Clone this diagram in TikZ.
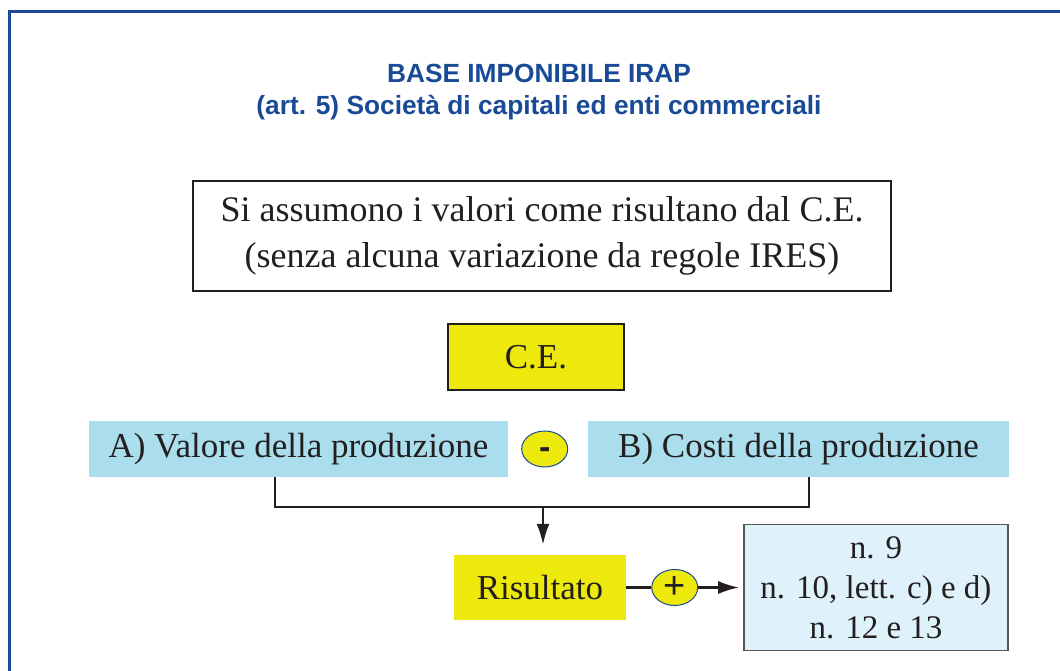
\documentclass[tikz,border=0pt]{standalone}
\usepackage{fontspec}
\setmainfont{Liberation Serif}
\setsansfont{Liberation Sans}
\usepackage{tikz}
\usetikzlibrary{shapes.geometric, calc, arrows.meta, positioning}

\definecolor{irapblue}{RGB}{24,74,150}
\definecolor{ceyellow}{RGB}{237,233,12}
\definecolor{prodblue}{RGB}{170,222,236}
\definecolor{vocifill}{RGB}{223,242,252}
\definecolor{inkgray}{RGB}{35,31,32}
\definecolor{edgegray}{RGB}{85,85,85}

\begin{document}
\begin{tikzpicture}[x=1pt, y=1pt, >={Latex[length=21pt, width=13pt]},
  box/.style={inner sep=0pt, text=inkgray, align=center, font=\fontsize{35}{46}\selectfont},
  sign/.style={ellipse, draw=irapblue, line width=1pt, fill=ceyellow, inner sep=0pt,
    minimum width=46pt, minimum height=36pt, text=inkgray},
  link/.style={draw=inkgray, line width=2.5pt}]

\useasboundingbox (0,0) rectangle (1060,670);
\draw[irapblue, line width=3pt] (9,-20) -- (9,658) -- (1080,658);

\node[text=irapblue, align=center, inner sep=0pt,
  font=\sffamily\bfseries\fontsize{26.3}{32}\selectfont] (title) at (539,578)
  {BASE IMPONIBILE IRAP\\(art. 5) Società di capitali ed enti commerciali};

\begin{scope}[node distance = 13pt]
\node[box, draw=inkgray, line width=1.5pt, minimum width=698pt, minimum height=110pt,
  font=\fontsize{36}{46}\selectfont] (assumono) at (542,434)
  {Si assumono i valori come risultano dal C.E.\\(senza alcuna variazione da regole IRES)};
\node[box, draw=inkgray, line width=1.5pt, fill=ceyellow, minimum width=176pt,
  minimum height=66pt] (ce) at (536,313) {C.E.};

\node[box, fill=prodblue, minimum width=419pt, minimum height=56pt] (valore) at (298.5,221)
  {A) Valore della produzione};
\node[sign, right = of valore, font=\sffamily\bfseries\fontsize{34}{34}\selectfont] (meno)
  {\raisebox{-9pt}[0pt][0pt]{-}};
\node[box, fill=prodblue, minimum width=421pt, minimum height=56pt] (costi) at (798.5,221)
  {B) Costi della produzione};

\node[box, fill=ceyellow, minimum width=172pt, minimum height=65pt] (risultato) at (540,82.5)
  {Risultato};
\node[sign, right = 25pt of risultato, font=\sffamily\fontsize{38}{38}\selectfont] (piu) {+};
\node[box, right = 45pt of piu, draw=edgegray, line width=1.5pt, fill=vocifill,
  minimum width=264pt, minimum height=126pt, font=\fontsize{33}{40}\selectfont] (voci)
  {n. 9\\n. 10, lett. c) e d)\\n. 12 e 13};
\end{scope}

\draw[link] ([xshift=-23.5pt]valore.south) -- ++(0,-30) -| ([xshift=10.5pt]costi.south);
\coordinate (merge) at ([xshift=3pt]risultato.north |- 0,163);
\draw[link, ->, shorten >=10pt] (merge) -- (merge |- risultato.north);
\draw[link] (risultato) -- (piu);
\draw[link, ->, shorten >=4pt] (piu) -- (voci);

\end{tikzpicture}
\end{document}
